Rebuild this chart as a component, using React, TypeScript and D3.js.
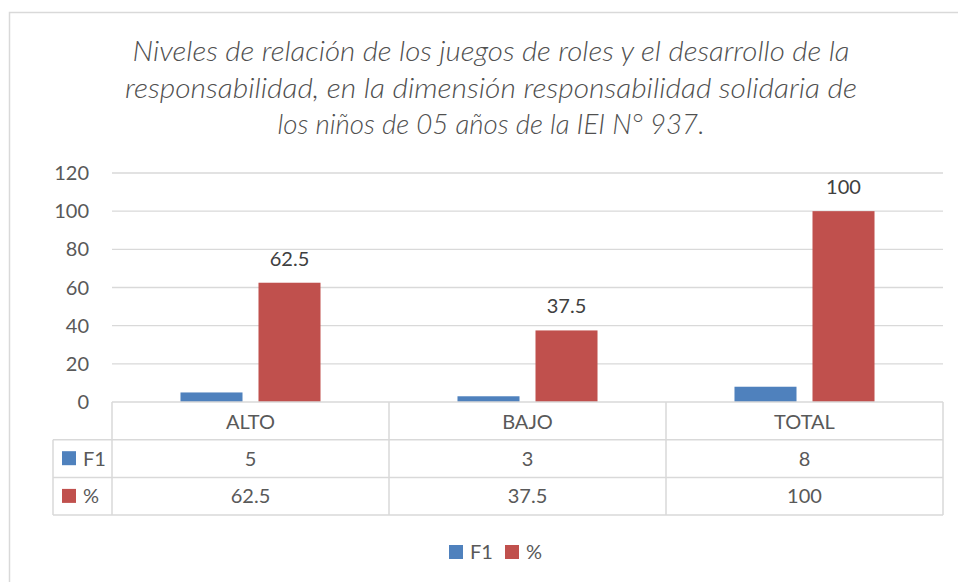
import * as d3 from "d3";
import { useEffect, useRef } from "react";

// chart data
const categories = ["ALTO", "BAJO", "TOTAL"];
const seriesNames = ["F1", "%"];
const f1Values = [5, 3, 8];
const pctValues = [62.5, 37.5, 100];
const yTicks = [0, 20, 40, 60, 80, 100, 120];
const titleLines = [
  "Niveles de relación de los juegos de roles y el desarrollo de la",
  "responsabilidad, en la dimensión responsabilidad solidaria de",
  "los niños de 05 años de la  IEI N° 937.",
];

const seriesColors = ["#4F81BD", "#C0504D"];

const App = () => {
  const svgRef = useRef<SVGSVGElement>(null);

  useEffect(() => {
    drawChart();
  }, []);

  const drawChart = () => {
    const width = 958;
    const height = 582;
    const svg = d3.select(svgRef.current);
    svg.selectAll("*").remove();

    const font = "Lato, 'Open Sans', sans-serif";
    const grid = "#d9d9d9";

    // outer chart frame (cut off at the right and bottom)
    svg
      .append("rect")
      .attr("x", 9.5)
      .attr("y", 12.5)
      .attr("width", width + 20)
      .attr("height", height + 20)
      .attr("fill", "white")
      .attr("stroke", grid)
      .attr("stroke-width", 1.5);

    // title, three centred lines
    const titleWidths = [717, 732, 427];
    svg
      .selectAll(".title")
      .data(titleLines)
      .enter()
      .append("text")
      .attr("class", "title")
      .attr("x", 491)
      .attr("y", (d, i) => 61 + i * 36.5)
      .attr("text-anchor", "middle")
      .attr("textLength", (d, i) => titleWidths[i])
      .attr("lengthAdjust", "spacingAndGlyphs")
      .style("font-family", font)
      .style("font-style", "italic")
      .style("font-weight", 300)
      .style("font-size", "27px")
      .attr("fill", "#505050")
      .text((d) => d);

    // plot area
    const plotLeft = 112;
    const plotRight = 943;
    const zeroY = 402;
    const topY = 173;

    const x0 = d3.scaleBand().domain(categories).range([plotLeft, plotRight]).padding(0);
    const x1 = d3
      .scaleBand()
      .domain(seriesNames)
      .range([0, x0.bandwidth()])
      .paddingInner(0.205)
      .paddingOuter(0.878);
    const y = d3.scaleLinear().domain([0, 120]).range([zeroY, topY]);

    // horizontal gridlines
    svg
      .selectAll(".grid")
      .data(yTicks.filter((t) => t > 0))
      .enter()
      .append("line")
      .attr("x1", plotLeft)
      .attr("x2", plotRight)
      .attr("y1", (d) => y(d))
      .attr("y2", (d) => y(d))
      .attr("stroke", grid)
      .attr("stroke-width", 1.3);

    // y axis labels
    svg
      .selectAll(".ytick")
      .data(yTicks)
      .enter()
      .append("text")
      .attr("x", 89)
      .attr("y", (d) => y(d) + 7)
      .attr("text-anchor", "end")
      .style("font-family", font)
      .style("font-size", "20px")
      .attr("fill", "#595959")
      .text((d) => d);

    // bars
    const rows = categories.map((c, i) => ({ cat: c, values: [f1Values[i], pctValues[i]] }));
    const groups = svg
      .selectAll(".group")
      .data(rows)
      .enter()
      .append("g")
      .attr("transform", (d) => `translate(${x0(d.cat)},0)`);

    groups
      .selectAll("rect")
      .data((d) => d.values.map((v, j) => ({ key: seriesNames[j], v, j })))
      .enter()
      .append("rect")
      .attr("x", (d) => x1(d.key)!)
      .attr("y", (d) => y(d.v))
      .attr("width", x1.bandwidth())
      .attr("height", (d) => zeroY - y(d.v))
      .attr("fill", (d) => seriesColors[d.j]);

    // data labels on the % series
    groups
      .append("text")
      .attr("x", x1("%")! + x1.bandwidth() / 2)
      .attr("y", (d) => y(d.values[1]) - 17)
      .attr("text-anchor", "middle")
      .style("font-family", font)
      .style("font-size", "20px")
      .attr("fill", "#404040")
      .text((d) => d.values[1]);

    // data table under the plot
    const rowH = 37.7;
    const headLeft = 53;
    const table = svg.append("g");
    const hLines = [
      { y: zeroY, x1: plotLeft },
      { y: zeroY + rowH, x1: headLeft },
      { y: zeroY + 2 * rowH, x1: headLeft },
      { y: zeroY + 3 * rowH, x1: headLeft },
    ];
    table
      .selectAll(".hl")
      .data(hLines)
      .enter()
      .append("line")
      .attr("x1", (d) => d.x1)
      .attr("x2", plotRight)
      .attr("y1", (d) => d.y)
      .attr("y2", (d) => d.y)
      .attr("stroke", grid)
      .attr("stroke-width", 1.5);

    const vEdges = [...categories.map((c) => x0(c)!), plotRight];
    table
      .selectAll(".vl")
      .data(vEdges)
      .enter()
      .append("line")
      .attr("x1", (d) => d)
      .attr("x2", (d) => d)
      .attr("y1", zeroY)
      .attr("y2", zeroY + 3 * rowH)
      .attr("stroke", grid)
      .attr("stroke-width", 1.5);
    table
      .append("line")
      .attr("x1", headLeft)
      .attr("x2", headLeft)
      .attr("y1", zeroY + rowH)
      .attr("y2", zeroY + 3 * rowH)
      .attr("stroke", grid)
      .attr("stroke-width", 1.5);

    // category header row
    table
      .selectAll(".cat")
      .data(categories)
      .enter()
      .append("text")
      .attr("x", (d) => x0(d)! + x0.bandwidth() / 2)
      .attr("y", zeroY + 27)
      .attr("text-anchor", "middle")
      .style("font-family", font)
      .style("font-size", "20px")
      .attr("fill", "#595959")
      .text((d) => d);

    // value rows
    const seriesValues = [f1Values, pctValues];
    seriesValues.forEach((vals, j) => {
      const rowTop = zeroY + (j + 1) * rowH;
      table
        .append("rect")
        .attr("x", 62)
        .attr("y", rowTop + 11.5)
        .attr("width", 14)
        .attr("height", 14)
        .attr("fill", seriesColors[j]);
      table
        .append("text")
        .attr("x", 83)
        .attr("y", rowTop + 26)
        .style("font-family", font)
        .style("font-size", "20px")
        .attr("fill", "#595959")
        .text(seriesNames[j]);
      table
        .selectAll(".val" + j)
        .data(vals)
        .enter()
        .append("text")
        .attr("x", (d, i) => x0(categories[i])! + x0.bandwidth() / 2)
        .attr("y", rowTop + 26)
        .attr("text-anchor", "middle")
        .style("font-family", font)
        .style("font-size", "20px")
        .attr("fill", "#595959")
        .text((d) => d);
    });

    // legend
    const legendX = [449, 505];
    const legend = svg
      .selectAll(".legend")
      .data(seriesNames)
      .enter()
      .append("g")
      .attr("transform", (d, i) => `translate(${legendX[i]},545)`);
    legend
      .append("rect")
      .attr("width", 14)
      .attr("height", 14)
      .attr("fill", (d, i) => seriesColors[i]);
    legend
      .append("text")
      .attr("x", 21)
      .attr("y", 14)
      .style("font-family", font)
      .style("font-size", "20px")
      .attr("fill", "#595959")
      .text((d) => d);
  };

  return (
    <svg
      ref={svgRef}
      width={958}
      height={582}
      style={{ position: "absolute", left: 0, top: 0, display: "block", background: "white" }}
    />
  );
};

export default App;
